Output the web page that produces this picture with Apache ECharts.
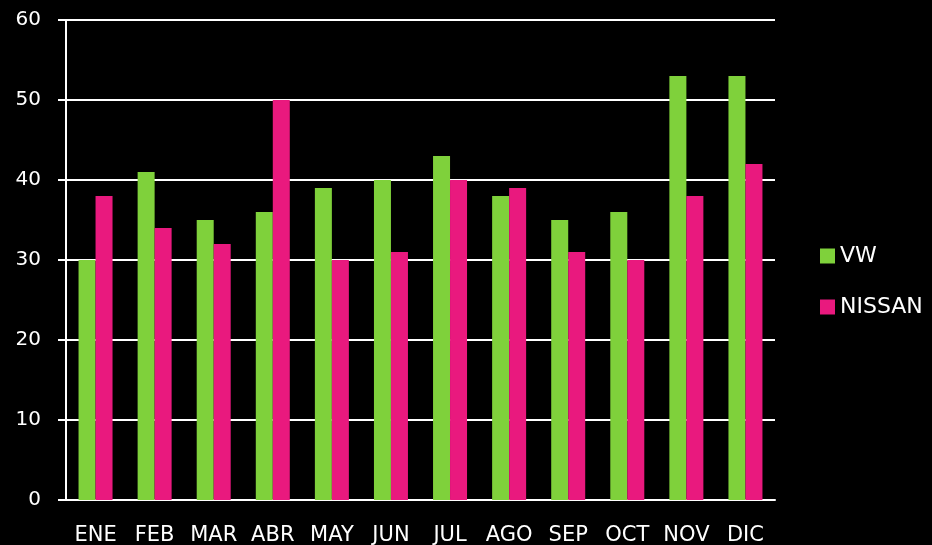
<!DOCTYPE html>
<html>
<head>
<meta charset="utf-8">
<script src="https://cdn.jsdelivr.net/npm/echarts@6/dist/echarts.min.js"></script>
<style>
  html, body { margin: 0; padding: 0; background: #000; }
  #chart { width: 932px; height: 545px; }
</style>
</head>
<body>
<div id="chart"></div>
<script>
var months = ['ENE', 'FEB', 'MAR', 'ABR', 'MAY', 'JUN', 'JUL', 'AGO', 'SEP', 'OCT', 'NOV', 'DIC'];
var vw = [30, 41, 35, 36, 39, 40, 43, 38, 35, 36, 53, 53];
var nissan = [38, 34, 32, 50, 30, 31, 40, 39, 31, 30, 38, 42];

var font = '"DejaVu Sans", sans-serif';

option = {
    animation: false,
    backgroundColor: '#000',
    grid: {
        left: 66,
        right: 157,
        top: 20,
        bottom: 45,
        outerBoundsMode: 'none'
    },
    legend: {
        orient: 'vertical',
        left: 815,
        top: 240,
        itemWidth: 15,
        itemHeight: 15,
        itemGap: 29,
        icon: 'rect',
        textStyle: {
            color: '#fff',
            fontSize: 22,
            fontFamily: font
        },
        data: ['VW', 'NISSAN']
    },
    xAxis: {
        type: 'category',
        data: months,
        axisLine: {
            lineStyle: { color: '#fff', width: 2 }
        },
        axisTick: {
            length: 8,
            lineStyle: { color: '#fff', width: 2 }
        },
        axisLabel: {
            color: '#fff',
            fontSize: 21,
            fontFamily: font,
            margin: 25,
            interval: 0
        }
    },
    yAxis: {
        type: 'value',
        min: 0,
        max: 60,
        interval: 10,
        axisLine: {
            show: true,
            lineStyle: { color: '#fff', width: 2 }
        },
        axisTick: {
            show: true,
            length: 8,
            lineStyle: { color: '#fff', width: 2 }
        },
        splitLine: {
            lineStyle: { color: '#fff', width: 2 }
        },
        axisLabel: {
            color: '#fff',
            fontSize: 20,
            fontFamily: font,
            margin: 25
        }
    },
    series: [
        {
            name: 'VW',
            type: 'bar',
            barWidth: 17,
            barGap: 0,
            itemStyle: { color: '#7fd13b' },
            data: vw
        },
        {
            name: 'NISSAN',
            type: 'bar',
            barWidth: 17,
            barGap: 0,
            itemStyle: { color: '#e9197e' },
            data: nissan
        }
    ]
};

echarts.init(document.getElementById('chart')).setOption(option, true);
</script>
</body>
</html>
